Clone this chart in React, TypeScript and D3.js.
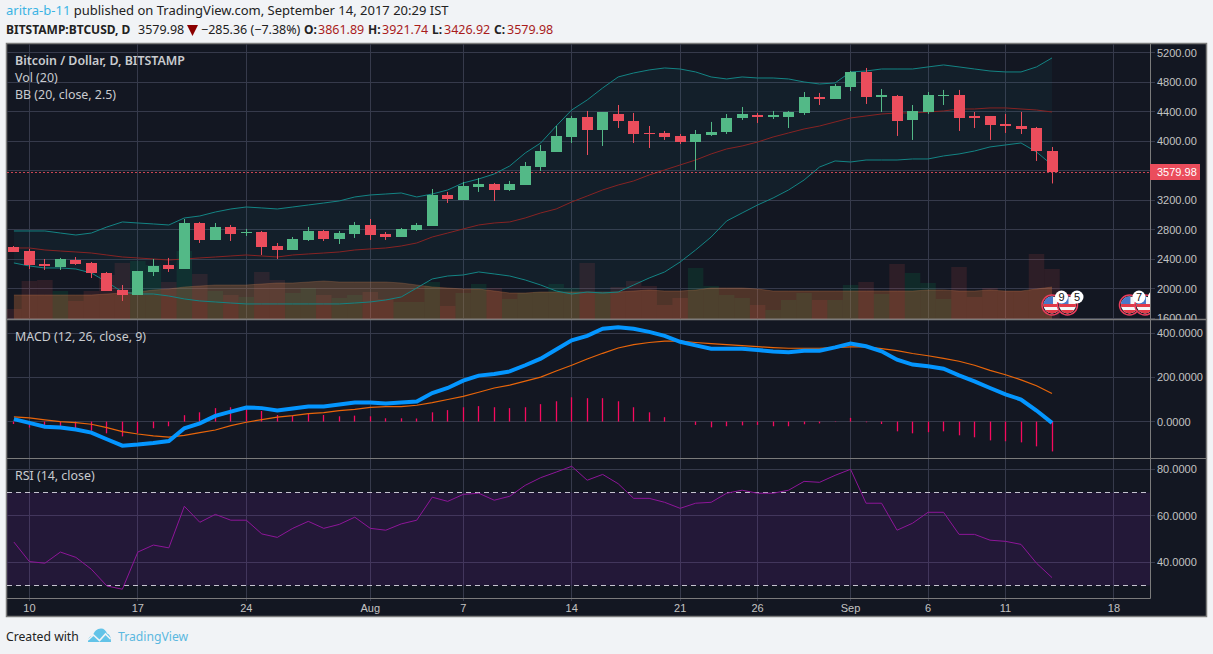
import React from "react";
import * as d3 from "d3";

const width = 1213;
const height = 654;
const plot = { left: 7, right: 1150, top: 44, priceBottom: 319, macdBottom: 458, bottom: 598 };
const bodyFont = "'Noto Sans', sans-serif";
const axisFont = "'Liberation Sans', Arial, sans-serif";

// day 0 = Jul 9 2017, day 67 = Sep 14 2017
const timeTickDays = [1, 8, 15, 23, 29, 36, 43, 48, 54, 59, 64, 71];
const timeTickLabels = ["10", "17", "24", "Aug", "7", "14", "21", "26", "Sep", "6", "11", "18"];

const priceTicks = [5200, 4800, 4400, 4000, 3600, 3200, 2800, 2400, 2000, 1600];
const macdTicks = [400, 200, 0];
const rsiTicks = [80, 60, 40];

// open, high, low, close
const candles = [
  [2566, 2579, 2498, 2498], [2511, 2539, 2267, 2322], [2335, 2403, 2254, 2308], [2294, 2417, 2254, 2403],
  [2389, 2430, 2322, 2335], [2349, 2362, 2145, 2213], [2213, 2227, 1969, 1969], [1983, 2050, 1834, 1915],
  [1915, 2240, 1915, 2240], [2227, 2403, 2172, 2308], [2322, 2417, 2227, 2267], [2267, 2945, 2267, 2891],
  [2891, 2905, 2620, 2661], [2661, 2891, 2661, 2837], [2837, 2864, 2647, 2742], [2755, 2810, 2715, 2769],
  [2769, 2783, 2457, 2566], [2579, 2620, 2403, 2525], [2525, 2701, 2525, 2674], [2661, 2837, 2647, 2783],
  [2783, 2796, 2647, 2674], [2674, 2783, 2606, 2755], [2742, 2905, 2688, 2864], [2864, 2945, 2661, 2728],
  [2742, 2769, 2661, 2701], [2701, 2823, 2701, 2810], [2796, 2891, 2783, 2864], [2850, 3352, 2850, 3271],
  [3271, 3312, 3162, 3217], [3203, 3447, 3203, 3393], [3379, 3501, 3312, 3420], [3420, 3434, 3190, 3339],
  [3339, 3461, 3325, 3420], [3406, 3718, 3406, 3664], [3650, 3949, 3596, 3867], [3854, 4206, 3854, 4071],
  [4057, 4342, 3976, 4315], [4328, 4410, 3813, 4152], [4152, 4396, 3935, 4396], [4369, 4491, 4179, 4274],
  [4274, 4383, 3976, 4098], [4112, 4206, 3908, 4098], [4112, 4139, 4017, 4057], [4071, 4098, 3962, 3989],
  [3989, 4152, 3610, 4098], [4084, 4261, 4071, 4125], [4125, 4369, 4098, 4315], [4315, 4464, 4288, 4369],
  [4356, 4383, 4247, 4328], [4328, 4410, 4301, 4356], [4328, 4410, 4179, 4396], [4383, 4667, 4356, 4600],
  [4600, 4654, 4491, 4573], [4573, 4776, 4573, 4749], [4735, 4952, 4681, 4939], [4939, 4993, 4505, 4600],
  [4600, 4708, 4396, 4627], [4613, 4627, 4071, 4274], [4288, 4491, 4017, 4410], [4396, 4667, 4369, 4627],
  [4613, 4695, 4491, 4627], [4627, 4695, 4139, 4315], [4342, 4396, 4179, 4315], [4342, 4342, 4017, 4220],
  [4234, 4369, 4112, 4206], [4206, 4396, 4098, 4166], [4179, 4193, 3732, 3865.34], [3861.89, 3921.74, 3426.92, 3579.98],
];
const lastClose = 3579.98;

const bbUpper = [
  2783, 2783, 2783, 2755, 2728, 2755, 2837, 2905, 2891, 2878, 2864, 2959, 2986, 3040, 3081, 3108, 3095,
  3081, 3108, 3135, 3162, 3190, 3244, 3271, 3284, 3298, 3244, 3284, 3339, 3434, 3488, 3556, 3664, 3840,
  3976, 4206, 4423, 4559, 4722, 4871, 4925, 4966, 4993, 4979, 4939, 4871, 4844, 4871, 4857, 4857, 4844,
  4803, 4776, 4790, 4939, 4952, 4979, 4979, 4979, 5007, 5034, 5007, 4979, 4952, 4939, 4939, 5007, 5129,
];
const bbBasis = [
  2552, 2552, 2525, 2511, 2498, 2484, 2457, 2430, 2417, 2403, 2389, 2403, 2417, 2430, 2444, 2457, 2444,
  2430, 2457, 2471, 2484, 2498, 2525, 2539, 2552, 2579, 2620, 2701, 2755, 2810, 2864, 2891, 2905, 2959,
  3027, 3081, 3176, 3257, 3339, 3406, 3461, 3542, 3610, 3678, 3745, 3827, 3895, 3935, 3989, 4057, 4112,
  4166, 4206, 4261, 4315, 4342, 4369, 4383, 4383, 4396, 4410, 4437, 4437, 4451, 4451, 4437, 4423, 4396,
];
const bbLower = [
  2349, 2308, 2281, 2281, 2267, 2213, 2091, 1955, 1928, 1928, 1901, 1861, 1834, 1820, 1806, 1793, 1793,
  1793, 1793, 1793, 1793, 1793, 1806, 1820, 1847, 1888, 2010, 2132, 2172, 2186, 2227, 2200, 2172, 2118,
  2050, 1969, 1928, 1955, 1942, 1955, 2050, 2145, 2227, 2362, 2525, 2701, 2918, 3027, 3135, 3230, 3339,
  3474, 3650, 3732, 3718, 3745, 3745, 3745, 3759, 3759, 3800, 3827, 3867, 3922, 3949, 3976, 3854, 3678,
];

// thousands of BTC
const volume = [
  5, 19, 19.5, 14, 9, 14, 22, 28, 29, 27, 18.5, 34, 22.5, 14, 12, 11, 23.5, 19.5, 13, 15.5, 12, 10.5, 12,
  13.5, 10, 8.5, 8.5, 18.5, 6.5, 13, 17.5, 15.5, 10, 13, 13.5, 17.5, 15.5, 28, 13, 16, 19, 16.5, 7, 10.5,
  25.5, 16.5, 12, 10.5, 7, 4.5, 9.5, 13, 9.5, 9.5, 17, 18.5, 12.5, 27.5, 23, 18, 10, 26, 11, 15.5, 14, 14,
  32.5, 25,
];
const volumeMa = [
  12, 12, 12, 12, 12, 12, 12.5, 13, 13.5, 14.5, 15, 16, 16.5, 17, 17, 17, 17.5, 18, 18, 18.5, 19, 18.5,
  18.5, 18.5, 18.5, 18, 17, 16, 15.5, 15, 15, 14, 13, 13, 13.5, 13.5, 13.5, 13.5, 13.5, 13.5, 14, 14.5, 14,
  14, 14.5, 15.5, 15.5, 15.5, 15, 14, 14, 14, 14, 14, 14, 14, 14, 14, 14, 14.5, 14.5, 14, 14, 14.5, 14, 14,
  15, 16,
];

const macdLine = [
  11, -6, -23, -27, -36, -50, -80, -109, -104, -97, -88, -30, -8, 26, 45, 64, 61, 50, 59, 68, 68, 77, 86,
  86, 82, 86, 91, 129, 152, 185, 208, 215, 227, 255, 285, 326, 368, 388, 420, 427, 420, 406, 388, 361, 345,
  330, 330, 330, 324, 317, 314, 321, 321, 336, 353, 341, 318, 280, 258, 250, 239, 209, 182, 152, 123, 100,
  50, -6,
];
const macdSignal = [
  21, 17, 8, 0, -5, -12, -27, -45, -56, -65, -70, -62, -50, -38, -18, -3, 9, 20, 27, 36, 41, 50, 55, 64, 68,
  68, 74, 86, 100, 114, 133, 152, 165, 183, 201, 229, 255, 283, 309, 333, 348, 358, 364, 364, 358, 353, 348,
  344, 339, 335, 332, 332, 332, 335, 338, 338, 330, 321, 308, 298, 286, 273, 255, 232, 212, 189, 162, 127,
];
const macdHist = [
  -11, -27, -30, -27, -30, -41, -53, -67, -52, -30, -21, 29, 42, 61, 65, 67, 48, 30, 27, 35, 30, 24, 27, 24,
  15, 15, 14, 42, 52, 65, 70, 65, 61, 65, 79, 92, 110, 106, 106, 92, 65, 42, 20, 0, -15, -26, -21, -17, -15,
  -21, -21, -12, -8, -2, 17, -3, -11, -44, -53, -48, -44, -62, -71, -85, -89, -94, -112, -135,
];

const rsi = [
  48.7, 40.3, 39.6, 44.4, 42.1, 37, 29.8, 28.4, 44.4, 47.4, 46.2, 64.1, 57.2, 60.6, 58.1, 58.1, 52.2, 50.7,
  54.6, 57.6, 54.6, 56.3, 59.4, 54.6, 53.8, 56.5, 58.1, 68, 66.2, 69.2, 69.7, 66.7, 68.4, 73.1, 76.4, 78.8,
  81.3, 75.3, 77.8, 73.8, 67.5, 67.5, 65.8, 63.2, 65.4, 65.8, 69.7, 71, 69.7, 69.7, 71, 74.8, 74.4, 77.4, 80,
  65.4, 65.4, 53.8, 56.8, 61.5, 61.5, 52, 52, 49.5, 49, 47.7, 39.6, 33.4,
];

// economic events past the last bar
const eventDays = [67, 68, 72, 73];
const eventCounts = ["9", "5", "7", "4"];

const GREEN = "#53b987";
const RED = "#eb4d5c";
const GRID = "#363a4b";
const EDGE = "#7b7b7b";
const AXIS_TEXT = "#c3c3c3";
const LINK = "#3bb3e4";

const x = d3.scaleLinear().domain([0, 67]).range([13.9, 1052]);
const yPrice = d3.scaleLinear().domain([1600, 5200]).range([318.2, 52.7]);
const yVol = d3.scaleLinear().domain([0, 50]).range([319, 219]);
const yMacd = d3.scaleLinear().domain([0, 400]).range([421.6, 333.2]);
const yRsi = d3.scaleLinear().domain([30, 80]).range([585.5, 469.3]);

const px = (v: number) => Math.floor(v) + 0.5;
const lineOf = (y: d3.ScaleLinear<number, number>) =>
  d3.line<number>().x((_, i) => x(i)).y((d) => y(d));

const bbFill = d3
  .area<number>()
  .x((_, i) => x(i))
  .y0((_, i) => yPrice(bbLower[i]))
  .y1((d) => yPrice(d))(bbUpper) as string;
const volArea = d3
  .area<number>()
  .x((_, i) => x(i))
  .y0(yVol(0))
  .y1((d) => yVol(d))(volumeMa) as string;

const HLines = ({ ticks, y }: { ticks: number[]; y: d3.ScaleLinear<number, number> }) => (
  <g stroke={GRID}>
    {ticks.map((t) => (
      <line key={t} x1={plot.left} x2={plot.right + 5} y1={px(y(t))} y2={px(y(t))} />
    ))}
  </g>
);

const AxisLabels = ({ ticks, y, digits }: { ticks: number[]; y: d3.ScaleLinear<number, number>; digits: number }) => (
  <g fontFamily={axisFont} fontSize={11} fill={AXIS_TEXT}>
    {ticks.map((t) => (
      <text key={t} x={1157} y={y(t) + 4}>
        {t.toFixed(digits)}
      </text>
    ))}
  </g>
);

export default function App() {
  return (
    <svg
      width={width}
      height={height}
      style={{ position: "absolute", left: 0, top: 0, display: "block" }}
    >
      <defs>
        <clipPath id="price-clip">
          <rect x={plot.left} y={plot.top} width={plot.right - plot.left} height={plot.priceBottom - plot.top} />
        </clipPath>
        <clipPath id="price-axis-clip">
          <rect x={plot.right} y={plot.top} width={60} height={plot.priceBottom - plot.top + 1} />
        </clipPath>
        <clipPath id="flag-clip">
          <circle r={8.5} />
        </clipPath>
      </defs>

      <rect width={width} height={height} fill="#f1f3f6" />

      {/* header */}
      <text x={6} y={15} fontFamily={bodyFont} fontSize={13} fill="#222">
        <tspan fill={LINK}>aritra-b-11</tspan> published on TradingView.com, September 14, 2017 20:29 IST
      </text>
      <g fontFamily={bodyFont} fontSize={12.5} fill="#222">
        <text x={6} y={34} fontSize={12} fontWeight={700}>BITSTAMP:BTCUSD, D</text>
        <text x={138} y={34}>3579.98</text>
        <path d="M187 25h11l-5.5 11z" fill="#8b0000" />
        <text x={201} y={34}>−285.36 (−7.38%)</text>
        <text x={304} y={34} fontSize={12} fontWeight={700}>O:</text>
        <text x={318} y={34} fill="#a91c1c">3861.89</text>
        <text x={368} y={34} fontSize={12} fontWeight={700}>H:</text>
        <text x={382} y={34} fill="#a91c1c">3921.74</text>
        <text x={432} y={34} fontSize={12} fontWeight={700}>L:</text>
        <text x={444} y={34} fill="#a91c1c">3426.92</text>
        <text x={494} y={34} fontSize={12} fontWeight={700}>C:</text>
        <text x={507} y={34} fill="#a91c1c">3579.98</text>
      </g>

      {/* chart panel */}
      <rect x={6.5} y={43.5} width={1200} height={573} fill="#131722" stroke={EDGE} strokeWidth={1.5} />

      {/* grid */}
      <g stroke={GRID}>
        {timeTickDays.map((d) => (
          <line key={d} x1={px(x(d))} x2={px(x(d))} y1={plot.top} y2={plot.bottom + 3} />
        ))}
      </g>
      <HLines ticks={priceTicks} y={yPrice} />
      <HLines ticks={macdTicks} y={yMacd} />
      <HLines ticks={rsiTicks} y={yRsi} />

      {/* price pane */}
      <g clipPath="url(#price-clip)">
        {volume.map((v, i) => {
          const up = candles[i][3] >= candles[i][0];
          const left = x(i) - 7.75;
          return (
            <rect
              key={i}
              x={left}
              y={yVol(v)}
              width={15.5}
              height={yVol(0) - yVol(v)}
              fill={up ? "rgba(0,170,90,0.13)" : "rgba(239,83,80,0.12)"}
            />
          );
        })}
        <path d={volArea} fill="rgba(220,120,60,0.3)" />
        <path d={lineOf(yVol)(volumeMa) as string} fill="none" stroke="rgba(220,130,80,0.25)" />

        <path d={bbFill} fill="rgba(25,136,150,0.07)" />
        <path d={lineOf(yPrice)(bbUpper) as string} fill="none" stroke="#138484" />
        <path d={lineOf(yPrice)(bbLower) as string} fill="none" stroke="#138484" />
        <path d={lineOf(yPrice)(bbBasis) as string} fill="none" stroke="#872323" />

        <line
          x1={plot.left}
          x2={plot.right}
          y1={px(yPrice(lastClose))}
          y2={px(yPrice(lastClose))}
          stroke={RED}
          strokeOpacity={0.85}
          strokeDasharray="2 2"
        />

        {candles.map(([o, h, l, c], i) => {
          const colour = c >= o ? GREEN : RED;
          const cx = px(x(i));
          const top = Math.round(yPrice(Math.max(o, c)));
          const bottom = Math.round(yPrice(Math.min(o, c)));
          return (
            <g key={i}>
              <line x1={cx} x2={cx} y1={yPrice(h)} y2={yPrice(l)} stroke={colour} />
              <rect x={cx - 5.5} y={top} width={11} height={Math.max(1, bottom - top)} fill={colour} />
            </g>
          );
        })}

        {eventDays.map((d) => (
          <g key={d} transform={`translate(${x(d)} 305)`}>
            <circle r={10} fill="#131722" stroke="#eb3d5c" strokeWidth={1.5} />
            <g clipPath="url(#flag-clip)">
              <rect x={-9} y={-9} width={18} height={18} fill="#f5f5f5" />
              <rect x={-9} y={-1} width={18} height={3} fill="#e23a48" />
              <rect x={-9} y={5} width={18} height={4} fill="#e23a48" />
              <rect x={-9} y={-9} width={10} height={8} fill="#4a78c8" />
            </g>
          </g>
        ))}
        {eventDays.map((d, i) => (
          <g key={d} transform={`translate(${x(d) + 9.5} 297)`}>
            <circle r={6.5} fill="#fff" />
            <text y={4} textAnchor="middle" fontFamily={axisFont} fontSize={11} fill="#111">
              {eventCounts[i]}
            </text>
          </g>
        ))}
      </g>

      {/* macd pane */}
      <g stroke="#f50a5f" strokeWidth={1.3}>
        {macdHist.map((v, i) => (
          <line key={i} x1={px(x(i))} x2={px(x(i))} y1={yMacd(0)} y2={yMacd(v)} />
        ))}
      </g>
      <path d={lineOf(yMacd)(macdSignal) as string} fill="none" stroke="#e8650a" strokeWidth={1.2} />
      <path d={lineOf(yMacd)(macdLine) as string} fill="none" stroke="#0496ff" strokeWidth={4} />

      {/* rsi pane */}
      <rect
        x={plot.left}
        y={yRsi(70)}
        width={plot.right - plot.left}
        height={yRsi(30) - yRsi(70)}
        fill="rgba(155,30,220,0.12)"
      />
      <g stroke="#c5c3cf" strokeDasharray="5 4">
        <line x1={plot.left} x2={plot.right} y1={px(yRsi(70))} y2={px(yRsi(70))} />
        <line x1={plot.left} x2={plot.right} y1={px(yRsi(30))} y2={px(yRsi(30))} />
      </g>
      <path d={lineOf(yRsi)(rsi) as string} fill="none" stroke="#8e1599" />

      {/* pane separators and axes */}
      <g stroke={EDGE}>
        <line x1={plot.left} x2={1206} y1={319.5} y2={319.5} strokeWidth={1.5} />
        <line x1={plot.left} x2={1206} y1={458.5} y2={458.5} />
        <line x1={plot.left} x2={1150.5} y1={598.5} y2={598.5} />
        <line x1={1150.5} x2={1150.5} y1={plot.top} y2={598.5} />
      </g>

      <g clipPath="url(#price-axis-clip)">
        <AxisLabels ticks={priceTicks} y={yPrice} digits={2} />
        <rect x={plot.right} y={164} width={50} height={16} fill={RED} />
        <text x={1157} y={176} fontFamily={axisFont} fontSize={11} fill="#fff">
          {lastClose.toFixed(2)}
        </text>
      </g>
      <AxisLabels ticks={macdTicks} y={yMacd} digits={4} />
      <AxisLabels ticks={rsiTicks} y={yRsi} digits={4} />

      <g fontFamily={axisFont} fontSize={11} fill={AXIS_TEXT} textAnchor="middle">
        {timeTickDays.map((d, i) => (
          <text key={d} x={x(d)} y={612}>
            {timeTickLabels[i]}
          </text>
        ))}
      </g>

      {/* pane legends */}
      <g fontFamily={bodyFont} fontSize={12.4} fill="#c9cbcf">
        <text x={15} y={65} fontWeight={600}>Bitcoin / Dollar, D, BITSTAMP</text>
        <text x={15} y={82}>Vol (20)</text>
        <text x={15} y={99}>BB (20, close, 2.5)</text>
        <text x={15} y={341}>MACD (12, 26, close, 9)</text>
        <text x={15} y={480}>RSI (14, close)</text>
      </g>

      {/* footer */}
      <text x={6} y={641} fontFamily={bodyFont} fontSize={12.2} fill="#222">Created with</text>
      <path
        d="M88 642c0-4 2-6 5-6.5 1-4 4-7 8-7 3 0 5 2 6 5 3 1 4 4 4 8.5z"
        fill="#62c3e8"
      />
      <path d="M88 640l5.5-5 6 5.5 6-6.5 5 5" fill="none" stroke="#f1f3f6" strokeWidth={1.6} />
      <text x={118} y={641} fontFamily={bodyFont} fontSize={12.2} fill="#5bb8e0">TradingView</text>
    </svg>
  );
}
